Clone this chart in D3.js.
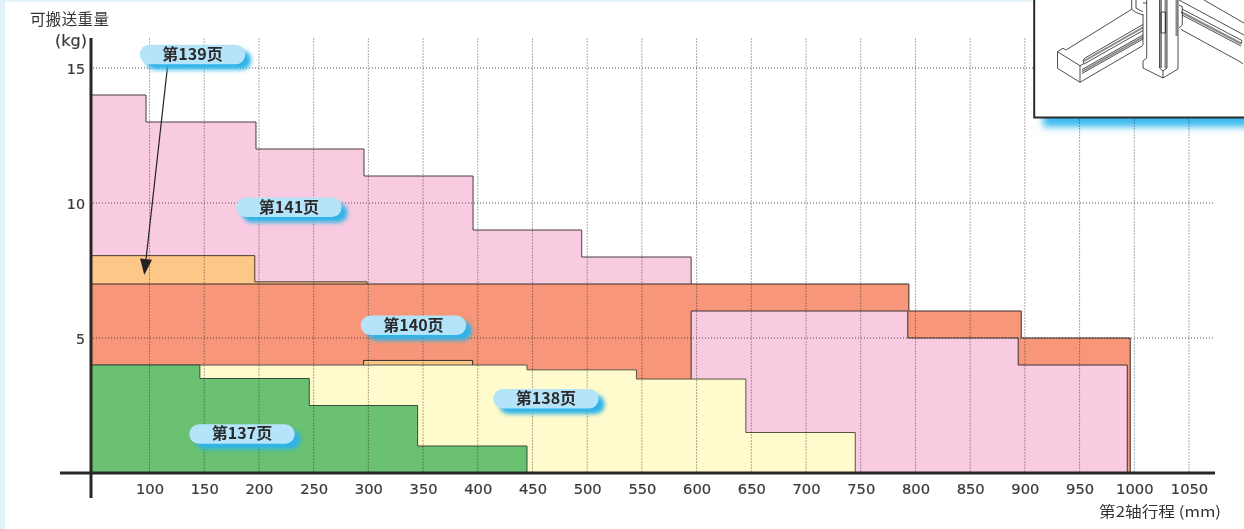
<!DOCTYPE html>
<html>
<head>
<meta charset="utf-8">
<script src="https://cdn.jsdelivr.net/npm/d3@7"></script>
<style>
  html, body { margin: 0; padding: 0; background: #fff; overflow: hidden; }
  svg { display: block; }
  .num { font-family: "DejaVu Sans", sans-serif; font-size: 14px; fill: #3a3a3a; stroke: #3a3a3a; stroke-width: 0.2px; }
  .cjk { font-family: "Noto Sans CJK SC", sans-serif; font-size: 15.5px; fill: #333; }
  .pill-text { font-family: "Noto Sans CJK SC", sans-serif; font-size: 16px; font-weight: 700; fill: #2b2b2b; }
</style>
</head>
<body>
<script>
// Tick labels
var xTicks = [100, 150, 200, 250, 300, 350, 400, 450, 500, 550, 600, 650, 700, 750, 800, 850, 900, 950, 1000, 1050];
var yTicks = [5, 10, 15];

// Each series: stroke at which a step ends (mm) and its load on that step (kg)
var pinkEnds = [96.8, 197.3, 296, 395.7, 495, 595];
var pinkLoads = [14, 13, 12, 11, 9, 8];

var orangeEnds = [196.2, 298.8];
var orangeLoads = [8.05, 7.08];

var redEnds = [794, 896.7, 996.3];
var redLoads = [7, 6, 5];

var pinkLongStart = 595;
var pinkLongEnds = [793, 893.9, 993.6];
var pinkLongLoads = [6, 5, 4];

var orangeLowStart = 295.7;
var orangeLowEnds = [395.3];
var orangeLowLoads = [4.17];

var yellowEnds = [445, 545, 645, 745];
var yellowLoads = [4, 3.82, 3.48, 1.5];

var greenEnds = [146, 246, 345, 445];
var greenLoads = [4, 3.5, 2.5, 1];

// Page reference labels and where they sit on the chart
var pageNames = ["第139页", "第141页", "第140页", "第138页", "第137页"];
var pageStroke = [139.3, 227.4, 341.2, 462.3, 184.5];
var pageLoad = [15.5, 9.84, 5.47, 2.75, 1.44];

var width = 1244, height = 529;

var x = d3.scaleLinear().domain([0, 1050]).range([40.1, 1189]);
var y = d3.scaleLinear().domain([0, 15]).range([473, 68]);
var xStart = x.invert(91);

var svg = d3.select("body").append("svg")
    .attr("width", width)
    .attr("height", height);

var defs = svg.append("defs");
defs.append("filter").attr("id", "blurPill")
    .attr("x", "-20%").attr("y", "-60%").attr("width", "140%").attr("height", "220%")
  .append("feGaussianBlur").attr("stdDeviation", 2);
defs.append("filter").attr("id", "blurBox")
    .attr("x", "-10%").attr("y", "-30%").attr("width", "120%").attr("height", "160%")
  .append("feGaussianBlur").attr("stdDeviation", 3.5);

// Page background strips
svg.append("rect").attr("width", 5).attr("height", height).attr("fill", "#e1f2fb");
svg.append("rect").attr("width", 1034).attr("height", 1.5).attr("fill", "#e1f2fb");

// Step outline, closed down to the x axis
function stepPath(start, ends, loads) {
  var pts = [[x(start), y(0)]];
  var from = start;
  ends.forEach(function(e, i) {
    pts.push([x(from), y(loads[i])]);
    pts.push([x(e), y(loads[i])]);
    from = e;
  });
  pts.push([x(from), y(0)]);
  return d3.line()(pts) + "Z";
}

function addSeries(start, ends, loads, fill, stroke) {
  svg.append("path")
      .attr("d", stepPath(start, ends, loads))
      .attr("fill", fill)
      .attr("stroke", stroke)
      .attr("stroke-width", 1);
}

addSeries(xStart, pinkEnds, pinkLoads, "#f8cbe0", "#4a3a40");
addSeries(xStart, orangeEnds, orangeLoads, "#fdc788", "#4a3a30");
addSeries(xStart, redEnds, redLoads, "#f79678", "#3a2a28");
addSeries(pinkLongStart, pinkLongEnds, pinkLongLoads, "#f8cbe0", "#3a3035");
addSeries(orangeLowStart, orangeLowEnds, orangeLowLoads, "#fdc788", "#2b2b2b");
addSeries(xStart, yellowEnds, yellowLoads, "#fffbcc", "#55554a");
addSeries(xStart, greenEnds, greenLoads, "#69c171", "#3c4a3c");

// Dotted grid on top of the fills
svg.append("g").selectAll("line")
    .data(xTicks)
  .join("line")
    .attr("x1", function(d) { return x(d); })
    .attr("x2", function(d) { return x(d); })
    .attr("y1", 38.5)
    .attr("y2", y(0))
    .attr("stroke", "#222")
    .attr("stroke-opacity", 0.75)
    .attr("stroke-dasharray", "1,2");

svg.append("g").selectAll("line")
    .data(yTicks)
  .join("line")
    .attr("x1", 93)
    .attr("x2", 1213)
    .attr("y1", function(d) { return y(d); })
    .attr("y2", function(d) { return y(d); })
    .attr("stroke", "#222")
    .attr("stroke-opacity", 0.75)
    .attr("stroke-dasharray", "1,2");

// Product picture box, runs off the top right of the page
svg.append("rect")
    .attr("x", 1043).attr("y", 90).attr("width", 240).attr("height", 37)
    .attr("fill", "#3cbcf0")
    .attr("filter", "url(#blurBox)")
    .style("mix-blend-mode", "multiply");
svg.append("rect")
    .attr("x", 1034.2).attr("y", -10).attr("width", 260).attr("height", 127.5)
    .attr("fill", "#fff")
    .attr("stroke", "#2b2b2b")
    .attr("stroke-width", 2);

var drawing = svg.append("g")
    .attr("fill", "none")
    .attr("stroke", "#222")
    .attr("stroke-width", 0.8)
    .attr("stroke-linejoin", "round");

var greyParts = [
  [[1084,61],[1143,27.5]],
  [[1082,71.5],[1143,37]],
  [[1161,0],[1161,68]],
  [[1165.5,0],[1165.5,68]],
  [[1176.5,0],[1176.5,36]],
  [[1181,12],[1241,43.5]]
];
greyParts.forEach(function(p) {
  drawing.append("path").attr("d", d3.line()(p))
      .attr("stroke", "#888")
      .attr("stroke-width", 2);
});

var thinParts = [
  // left beam
  [[1057.5,51.7],[1080,65.7],[1080,82.3],[1057.5,68.3],[1057.5,51.7]],
  [[1057.5,51.7],[1063,48.3],[1066,50],[1131.7,9.3],[1136,12.5],[1143,15]],
  [[1080,65.7],[1084,63.5],[1083,60],[1085,58],[1143,24.5]],
  [[1084,64],[1143,30.5]],
  [[1082,69.5],[1143,35]],
  [[1082,73.5],[1143,39]],
  [[1080,82.3],[1143,45.5]],
  [[1131.7,9.3],[1131.7,0]],
  [[1136,0],[1136,8],[1143,12]],
  // column
  [[1146.7,0],[1146.7,58],[1143,61],[1143,68],[1163,78],[1178,69],[1178,0]],
  [[1143,3],[1146.7,3]],
  [[1143,14],[1143,45]],
  [[1159.5,0],[1159.5,68],[1163,71],[1167,68],[1167,0]],
  [[1163,71],[1163,78]],
  [[1161,12],[1165.5,12],[1165.5,33],[1161,33],[1161,12]],
  // right beam
  [[1179,0],[1244,35]],
  [[1204,0],[1244,23]],
  [[1179,5],[1182.3,6.7],[1182.3,25],[1179,28]],
  [[1180.7,29.3],[1240,61.7],[1243,64]],
  [[1182,9],[1242,40.5],[1241,44]],
  [[1182,15],[1241,46]]
];
thinParts.forEach(function(p) {
  drawing.append("path").attr("d", d3.line()(p));
});

// Axis lines
var xAxis = d3.axisBottom(x).tickValues(xTicks).tickSize(0).tickPadding(0).tickFormat(d3.format("d"));
var xAxisG = svg.append("g")
    .attr("transform", "translate(0," + y(0) + ")")
    .call(xAxis);
xAxisG.select(".domain").remove();
xAxisG.selectAll("text")
    .attr("class", "num")
    .attr("dy", null)
    .attr("y", 21)
    .attr("textLength", function(d) { return String(d).length * 9.35; })
    .attr("lengthAdjust", "spacingAndGlyphs");

var yAxis = d3.axisLeft(y).tickValues(yTicks).tickSize(0).tickPadding(6);
var yAxisG = svg.append("g")
    .attr("transform", "translate(91,0)")
    .call(yAxis);
yAxisG.select(".domain").remove();
yAxisG.selectAll("text")
    .attr("class", "num")
    .attr("dy", "0.36em")
    .attr("textLength", function(d) { return String(d).length * 9.1; })
    .attr("lengthAdjust", "spacingAndGlyphs");

svg.append("line")
    .attr("x1", 91).attr("x2", 91).attr("y1", 38).attr("y2", 498)
    .attr("stroke", "#2b2626").attr("stroke-width", 3);
svg.append("line")
    .attr("x1", 60).attr("x2", 1215).attr("y1", y(0)).attr("y2", y(0))
    .attr("stroke", "#2b2626").attr("stroke-width", 3);

// Axis titles
svg.append("text").attr("class", "cjk")
    .attr("x", 30).attr("y", 25)
    .attr("textLength", 79)
    .text("可搬送重量");
svg.append("text").attr("class", "num")
    .attr("x", 87).attr("y", 46)
    .attr("text-anchor", "end")
    .attr("textLength", 32)
    .attr("lengthAdjust", "spacingAndGlyphs")
    .style("font-size", "15px")
    .text("(kg)");
svg.append("text").attr("class", "cjk")
    .attr("x", 1099).attr("y", 517)
    .attr("textLength", 122)
    .attr("lengthAdjust", "spacingAndGlyphs")
    .style("font-size", "14.5px")
    .text("第2轴行程 (mm)");

// Arrow from the 139 label down to the light orange area
var arrowFrom = [x(116.6), y(15.11)];
var arrowTo = [x(95.2), y(7.33)];
var angle = Math.atan2(arrowTo[1] - arrowFrom[1], arrowTo[0] - arrowFrom[0]);
var headLen = 16, headHalf = 6;
var bx = arrowTo[0] - headLen * Math.cos(angle);
var by = arrowTo[1] - headLen * Math.sin(angle);
svg.append("line")
    .attr("x1", arrowFrom[0]).attr("y1", arrowFrom[1])
    .attr("x2", bx).attr("y2", by)
    .attr("stroke", "#222").attr("stroke-width", 1.2);
svg.append("path")
    .attr("d", d3.line()([
      arrowTo,
      [bx + headHalf * Math.sin(angle), by - headHalf * Math.cos(angle)],
      [bx - headHalf * Math.sin(angle), by + headHalf * Math.cos(angle)]
    ]) + "Z")
    .attr("fill", "#222");

// Page labels
var pillW = 105.5, pillH = 19.5;
var pill = svg.append("g").selectAll("g")
    .data(pageNames)
  .join("g")
    .attr("transform", function(d, i) {
      return "translate(" + x(pageStroke[i]) + "," + y(pageLoad[i]) + ")";
    });

pill.append("rect")
    .attr("x", -pillW / 2 + 6).attr("y", -pillH / 2 + 5.5)
    .attr("width", pillW).attr("height", pillH)
    .attr("rx", pillH / 2)
    .attr("fill", "#2fb4e8")
    .attr("filter", "url(#blurPill)");

pill.append("rect")
    .attr("x", -pillW / 2).attr("y", -pillH / 2)
    .attr("width", pillW).attr("height", pillH)
    .attr("rx", pillH / 2)
    .attr("fill", "#b5e3f9");

pill.append("text")
    .attr("class", "pill-text")
    .attr("text-anchor", "middle")
    .attr("dy", "0.33em")
    .text(function(d) { return d; });
</script>
</body>
</html>
